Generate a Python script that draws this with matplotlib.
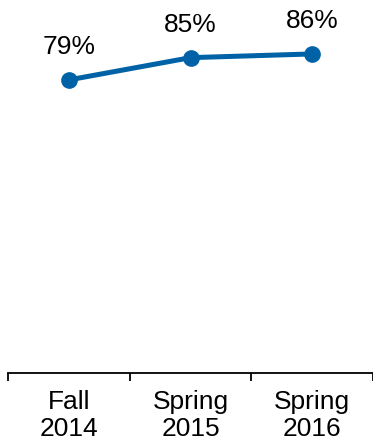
import matplotlib.pyplot as plt
import numpy as np

plt.rcParams['font.family'] = ['Liberation Sans', 'DejaVu Sans']

terms = ['Fall\n2014', 'Spring\n2015', 'Spring\n2016']
pct = [79, 85, 86]
labels = ['79%', '85%', '86%']

x = np.arange(len(terms))
blue = '#0062A6'

fig = plt.figure(figsize=(3.73, 4.45), dpi=100)
ax = fig.add_axes([8 / 373, 72 / 445, 365 / 373, 371 / 445])

ax.plot(x, pct, color=blue, lw=3.6, marker='o', ms=11, solid_capstyle='round')
for xi, v, s in zip(x, pct, labels):
    ax.annotate(s, (xi, v), xytext=(0, 18.5), textcoords='offset points',
                ha='center', va='baseline', fontsize=19)

ax.set_xlim(-0.5, len(terms) - 0.5)
ax.set_ylim(0, 100)

# boundary ticks carry the marks, centre ticks carry the labels
ax.set_xticks(np.arange(len(terms) + 1) - 0.5)
ax.set_xticklabels([])
ax.tick_params(axis='x', which='major', length=6, width=1.3, color='black')
ax.set_xticks(x, minor=True)
ax.set_xticklabels(terms, minor=True, fontsize=19, linespacing=1.17)
ax.tick_params(axis='x', which='minor', length=0, pad=12)

ax.set_yticks([])
for side in ['left', 'right', 'top']:
    ax.spines[side].set_visible(False)
ax.spines['bottom'].set_linewidth(1.3)

fig.savefig('out.png', dpi=100)
